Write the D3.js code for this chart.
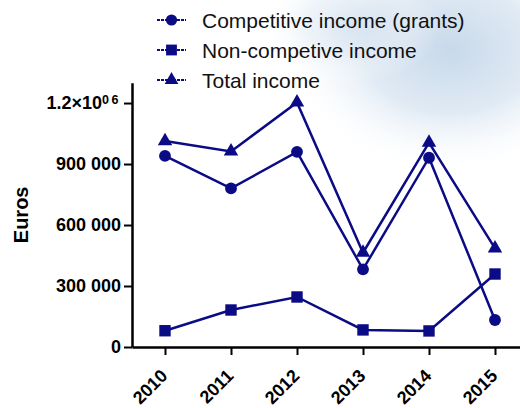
<!DOCTYPE html>
<html>
<head>
<meta charset="utf-8">
<script src="https://cdn.jsdelivr.net/npm/d3@7"></script>
<style>
  body { margin: 0; background: #fff; }
  svg text { font-family: "Liberation Sans", Arial, sans-serif; }
  .axis path, .axis line { stroke: #000; }
  .axis text { font-weight: bold; fill: #000; }
</style>
</head>
<body>
<svg id="chart" width="520" height="408"></svg>
<script>
// data
var years = [2010, 2011, 2012, 2013, 2014, 2015];
var competitive = [940000, 780000, 960000, 382000, 931000, 133000];
var nonCompetitive = [80000, 182000, 246000, 84000, 79000, 359000];
var total = [1013000, 962000, 1203000, 464000, 1005000, 485000];
var yTicks = [0, 300000, 600000, 900000, 1200000];
var seriesNames = ["Competitive income (grants)", "Non-competive income", "Total income"];

var navy = "#0b0b85";

var svg = d3.select("#chart"),
    width = +svg.attr("width"),
    height = +svg.attr("height");

// soft blue cloud in the top right of the background
var defs = svg.append("defs");
var grad = defs.append("radialGradient").attr("id", "cloud")
    .attr("cx", "0.5").attr("cy", "0.5").attr("r", "0.5");
grad.append("stop").attr("offset", "0%").attr("stop-color", "#c8d9ea");
grad.append("stop").attr("offset", "50%").attr("stop-color", "#e0eaf4");
grad.append("stop").attr("offset", "100%").attr("stop-color", "#ffffff").attr("stop-opacity", 0);

svg.append("ellipse")
    .attr("cx", 450).attr("cy", 50)
    .attr("rx", 170).attr("ry", 125)
    .attr("fill", "url(#cloud)");
svg.append("ellipse")
    .attr("cx", 350).attr("cy", 25)
    .attr("rx", 90).attr("ry", 60)
    .attr("fill", "url(#cloud)")
    .attr("opacity", 0.5);

var x = d3.scaleLinear()
    .domain([2009.5, 2015.4])
    .range([132, 521.4]);
var y = d3.scaleLinear()
    .domain([0, 1300000])
    .range([347, 82.7]);

function fmt(d) {
  if (d === 0) return "0";
  return d3.format(",")(d).replace(/,/g, " ");
}

// y axis
var gy = svg.append("g")
    .attr("class", "axis")
    .attr("transform", "translate(" + x.range()[0] + ",0)")
    .call(d3.axisLeft(y).tickValues(yTicks).tickSize(8).tickSizeOuter(0).tickPadding(3).tickFormat(fmt));
gy.select(".domain").attr("stroke-width", 2.5);
gy.selectAll(".tick line").attr("stroke-width", 2);
gy.selectAll(".tick text").attr("font-size", "18px");

// 1.2x10^06 label like the original
gy.selectAll(".tick text").filter(function(d) { return d === 1200000; })
    .text(null)
    .each(function() {
      var t = d3.select(this);
      t.append("tspan").text("1.2×10");
      t.append("tspan").attr("dy", "-5").attr("font-size", "12.5px").attr("letter-spacing", "2.5px").text("06");
    });

// x axis
var gx = svg.append("g")
    .attr("class", "axis")
    .attr("transform", "translate(0," + y(0) + ")")
    .call(d3.axisBottom(x).tickValues(years).tickSize(8).tickSizeOuter(0).tickFormat(d3.format("d")));
gx.select(".domain").attr("stroke-width", 2.5);
gx.selectAll(".tick line").attr("stroke-width", 2);
gx.selectAll(".tick text")
    .attr("font-size", "18px")
    .attr("text-anchor", "end")
    .attr("x", 0).attr("y", 0)
    .attr("dy", null)
    .attr("transform", "translate(3,30) rotate(-45)");

svg.append("text")
    .attr("transform", "translate(28," + y(650000) + ") rotate(-90)")
    .attr("text-anchor", "middle")
    .attr("font-size", "20px")
    .attr("font-weight", "bold")
    .text("Euros");

// lines
var line = d3.line()
    .x(function(d, i) { return x(years[i]); })
    .y(function(d) { return y(d); });

var series = [
  {name: seriesNames[0], values: competitive, symbol: d3.symbolCircle, size: 110},
  {name: seriesNames[1], values: nonCompetitive, symbol: d3.symbolSquare, size: 130},
  {name: seriesNames[2], values: total, symbol: d3.symbolTriangle, size: 90}
];

series.forEach(function(s) {
  svg.append("path")
      .datum(s.values)
      .attr("fill", "none")
      .attr("stroke", navy)
      .attr("stroke-width", 2.5)
      .attr("d", line);

  svg.selectAll(null)
      .data(s.values)
    .enter().append("path")
      .attr("d", d3.symbol().type(s.symbol).size(s.size))
      .attr("transform", function(d, i) { return "translate(" + x(years[i]) + "," + y(d) + ")"; })
      .attr("fill", navy);
});

// legend
var legend = svg.append("g").attr("transform", "translate(157,20)");
series.forEach(function(s, i) {
  var row = legend.append("g").attr("transform", "translate(0," + (i * 30) + ")");
  row.append("line")
      .attr("x1", 0).attr("x2", 29)
      .attr("stroke", navy).attr("stroke-width", 2)
      .attr("stroke-dasharray", "3,1");
  row.append("path")
      .attr("d", d3.symbol().type(s.symbol).size(s.size * 0.9))
      .attr("transform", "translate(14.5,0)")
      .attr("fill", navy);
  row.append("text")
      .attr("x", 45).attr("y", 7.5)
      .attr("font-size", "21px")
      .attr("fill", "#111")
      .text(s.name);
});
</script>
</body>
</html>
